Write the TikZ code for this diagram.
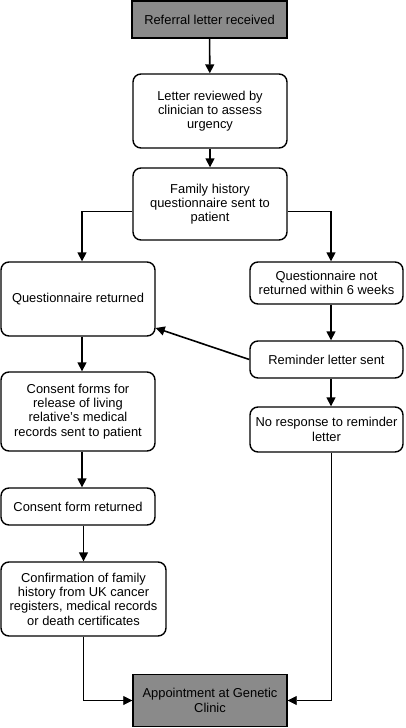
\documentclass[tikz,border=0pt]{standalone}
\usepackage{fontspec}
\setmainfont{Liberation Sans}
\usepackage{xcolor}
\usepackage{tikz}
\usetikzlibrary{arrows.meta}
\definecolor{boxgray}{RGB}{138,138,138}

\begin{document}
\begin{tikzpicture}[x=1pt, y=1pt,
  stepbox/.style={draw, line width=1.4pt, rounded corners=8pt, align=center, inner sep=0pt,
    font=\fontsize{12.9}{14.3}\selectfont},
  endbox/.style={stepbox, rounded corners=0pt, fill=boxgray},
  flow/.style={-{Triangle[length=9pt, width=9pt]}, line width=1.6pt},
  thinline/.style={line width=0.8pt},
  thinflow/.style={-{Triangle[length=9pt, width=9pt]}, line width=0.8pt}]
  \useasboundingbox (0,0) rectangle (405,-728);

  % Draw column lines
  \coordinate (lcol) at (82,0);
  \coordinate (rcol) at (331,0);

  % Draw centre boxes
  \node[endbox, minimum width=155pt, minimum height=37pt] (referral) at (209.5,-19.5) {Referral letter received};
  \node[stepbox, minimum width=154pt, minimum height=74pt] (review) at (210,-111) {Letter reviewed by\\clinician to assess\\urgency};
  \node[stepbox, minimum width=154pt, minimum height=72pt] (sent) at (210,-204) {Family history\\questionnaire sent to\\patient};

  % Draw left boxes
  \node[stepbox, minimum width=154pt, minimum height=74pt] (returned) at (78,-299) {Questionnaire returned};
  \node[stepbox, minimum width=154pt, minimum height=79pt] (consent) at (78,-411.5) {Consent forms for\\release of living\\relative's medical\\records sent to patient};
  \node[stepbox, minimum width=154pt, minimum height=37pt] (formback) at (78,-506.5) {Consent form returned};
  \node[stepbox, minimum width=165pt, minimum height=74pt] (confirm) at (83.5,-599) {Confirmation of family\\history from UK cancer\\registers, medical records\\or death certificates};

  % Draw right boxes
  \node[stepbox, minimum width=153pt, minimum height=42pt] (notback) at (326.5,-283) {Questionnaire not\\returned within 6 weeks};
  \node[stepbox, minimum width=153pt, minimum height=37pt] (reminder) at (326.5,-359.5) {Reminder letter sent};
  \node[stepbox, minimum width=153pt, minimum height=45pt] (noreply) at (326.5,-429.5) {No response to reminder\\letter};

  % Draw appointment box
  \node[endbox, minimum width=154pt, minimum height=52pt] (clinic) at (210,-700.5) {Appointment at Genetic\\Clinic};

  % Draw arrows down the centre
  \draw[flow] (referral) -- (review);
  \draw[flow] (review) -- (sent);

  % Draw branches
  \coordinate (lturn) at ([yshift=-7pt]sent.west -| lcol);
  \coordinate (rturn) at ([yshift=-7pt]sent.east -| rcol);
  \draw[thinline] ([yshift=-7pt]sent.west) -- (lturn);
  \draw[thinline] ([yshift=-7pt]sent.east) -- (rturn);
  \draw[flow] (lturn) -- (returned.north -| lcol);
  \draw[flow] (rturn) -- (notback.north -| rcol);

  % Draw left arrows
  \draw[flow] (returned.south -| lcol) -- (consent.north -| lcol);
  \draw[flow] (consent.south -| lcol) -- (formback.north -| lcol);
  \draw[flow] (formback.south -| confirm) -- (confirm.north);

  % Draw right arrows
  \draw[flow] (notback.south -| rcol) -- (reminder.north -| rcol);
  \draw[flow] (reminder.south -| rcol) -- (noreply.north -| rcol);
  \draw[flow] (reminder.west) -- ([yshift=-29pt]returned.east);

  % Draw arrows into the clinic
  \draw[thinflow] (confirm.south) |- (clinic.west);
  \draw[thinflow] (noreply.south -| rcol) |- (clinic.east);
\end{tikzpicture}
\end{document}
